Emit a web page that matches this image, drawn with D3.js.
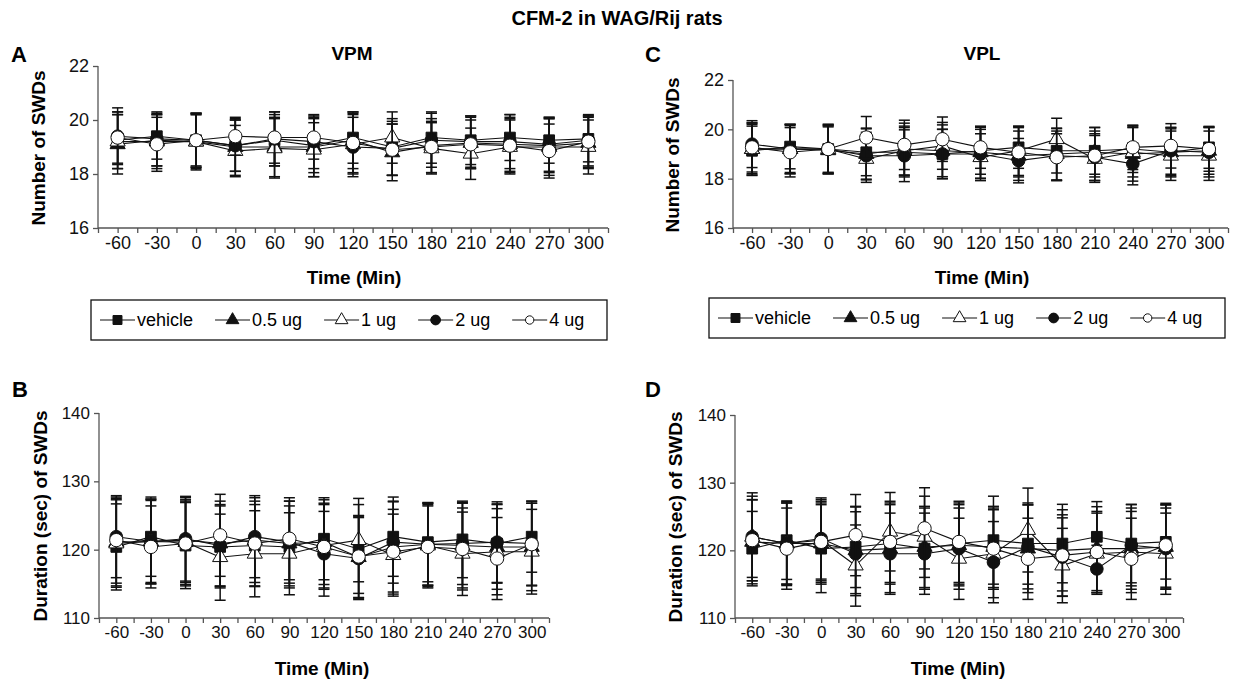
<!DOCTYPE html>
<html>
<head>
<meta charset="utf-8">
<script src="https://cdn.jsdelivr.net/npm/d3@7"></script>
<style>
  body { margin: 0; background: #fff; }
  svg { font-family: Arial, "Liberation Sans", sans-serif; }
</style>
</head>
<body>
<svg id="chart" width="1234" height="684"></svg>
<script>
// time points (min)
const times = [-60, -30, 0, 30, 60, 90, 120, 150, 180, 210, 240, 270, 300]
const seriesNames = ["vehicle", "0.5 ug", "1 ug", "2 ug", "4 ug"]

// A - VPM, number of SWDs
const vpmCountVehicle = [19.25, 19.4, 19.25, 19.05, 19.25, 19.05, 19.35, 19.0, 19.35, 19.25, 19.35, 19.25, 19.3]
const vpmCount05 = [19.1, 19.25, 19.2, 19.0, 19.0, 19.0, 19.25, 18.8, 19.05, 19.15, 19.1, 19.05, 19.15]
const vpmCount1 = [19.2, 19.2, 19.2, 18.85, 18.95, 18.9, 19.1, 19.35, 18.95, 18.75, 19.0, 19.0, 19.0]
const vpmCount2 = [19.4, 19.3, 19.25, 19.05, 19.3, 19.2, 19.0, 18.95, 19.25, 19.2, 19.2, 19.1, 19.25]
const vpmCount4 = [19.35, 19.1, 19.25, 19.4, 19.35, 19.35, 19.15, 18.9, 19.0, 19.1, 19.05, 18.85, 19.2]
const vpmCountErrVehicle = [1.05, 0.85, 1.0, 0.95, 0.95, 1.0, 0.95, 1.05, 0.95, 0.9, 0.85, 0.85, 0.85]
const vpmCountErr05 = [1.1, 0.95, 1.0, 1.05, 1.1, 1.1, 1.05, 1.05, 1.0, 0.95, 1.0, 1.0, 0.95]
const vpmCountErr1 = [1.0, 1.0, 1.05, 0.95, 1.1, 1.0, 1.1, 0.95, 0.95, 0.95, 1.0, 1.05, 1.0]
const vpmCountErr2 = [1.05, 1.0, 1.0, 0.95, 1.0, 1.0, 1.1, 1.0, 1.0, 0.95, 1.0, 1.0, 0.95]
const vpmCountErr4 = [0.95, 1.0, 0.95, 0.7, 0.95, 0.8, 1.1, 0.95, 0.95, 0.9, 1.0, 1.0, 0.95]

// C - VPL, number of SWDs
const vplCountVehicle = [19.13, 19.3, 19.2, 19.07, 19.07, 19.0, 19.13, 19.27, 19.13, 19.13, 19.2, 19.07, 19.27]
const vplCount05 = [19.2, 19.2, 19.15, 19.0, 19.2, 19.13, 19.07, 18.93, 19.0, 19.07, 19.0, 19.07, 19.13]
const vplCount1 = [19.2, 19.2, 19.2, 18.8, 19.13, 19.33, 18.87, 19.13, 19.6, 18.8, 19.07, 18.93, 18.93]
const vplCount2 = [19.4, 19.2, 19.2, 18.93, 18.93, 19.0, 19.0, 18.73, 18.93, 18.87, 18.6, 19.13, 19.07]
const vplCount4 = [19.27, 19.07, 19.2, 19.67, 19.37, 19.6, 19.27, 19.07, 18.87, 18.93, 19.27, 19.33, 19.2]
const vplCountErrVehicle = [1.0, 0.9, 0.95, 0.95, 1.0, 1.0, 0.95, 0.85, 0.9, 0.95, 0.95, 0.95, 0.85]
const vplCountErr05 = [1.05, 1.0, 0.95, 1.05, 1.05, 1.05, 1.05, 1.0, 1.05, 1.0, 1.1, 1.0, 0.95]
const vplCountErr1 = [1.0, 0.95, 1.0, 0.95, 1.0, 0.95, 0.95, 1.0, 0.85, 0.95, 1.0, 1.0, 1.0]
const vplCountErr2 = [0.95, 1.0, 1.0, 0.95, 1.05, 1.0, 1.0, 0.9, 1.0, 0.95, 0.85, 0.95, 1.0]
const vplCountErr4 = [1.0, 1.0, 0.95, 0.85, 1.0, 0.9, 0.85, 1.0, 0.95, 1.0, 0.9, 0.9, 0.9]

// B - VPM, duration of SWDs (sec)
const vpmDurVehicle = [120.4, 121.9, 120.6, 120.4, 120.6, 120.4, 121.6, 120.1, 121.9, 121.1, 121.5, 120.9, 121.9]
const vpmDur05 = [121.1, 121.2, 121.4, 120.9, 121.4, 120.9, 121.1, 118.9, 120.4, 120.8, 120.6, 120.4, 120.4]
const vpmDur1 = [120.9, 121.2, 121.1, 118.9, 119.4, 119.4, 120.6, 121.4, 119.2, 120.6, 119.4, 119.7, 119.7]
const vpmDur2 = [121.9, 121.2, 121.6, 120.6, 121.9, 121.1, 119.4, 118.7, 121.1, 120.8, 120.9, 121.1, 120.9]
const vpmDur4 = [121.4, 120.4, 120.9, 122.1, 120.9, 121.6, 120.4, 119.0, 119.7, 120.4, 120.1, 118.7, 120.8]
const vpmDurErrVehicle = [6.3, 5.8, 6.3, 6.0, 6.0, 6.0, 6.0, 6.5, 5.8, 5.8, 5.6, 5.8, 5.2]
const vpmDurErr05 = [6.4, 6.2, 6.2, 6.2, 6.2, 6.2, 6.2, 6.0, 6.6, 6.0, 6.2, 6.2, 6.4]
const vpmDurErr1 = [6.4, 6.2, 6.2, 6.3, 6.3, 6.0, 6.2, 6.1, 6.0, 6.0, 6.1, 6.3, 6.2]
const vpmDurErr2 = [6.0, 6.0, 6.2, 6.0, 6.0, 6.0, 6.2, 6.0, 6.0, 6.0, 6.0, 5.9, 6.2]
const vpmDurErr4 = [6.3, 6.0, 6.2, 6.0, 6.2, 6.0, 6.2, 6.0, 6.2, 6.0, 6.0, 6.0, 6.0]

// D - VPL, duration of SWDs (sec)
const vplDurVehicle = [120.25, 121.5, 120.25, 120.5, 121.0, 120.25, 121.0, 121.5, 121.0, 121.0, 122.0, 121.0, 121.25]
const vplDur05 = [121.25, 121.0, 121.0, 120.0, 120.25, 120.5, 120.75, 120.5, 120.25, 120.0, 120.25, 120.25, 120.5]
const vplDur1 = [122.0, 121.0, 121.5, 117.75, 122.75, 122.0, 118.75, 119.5, 123.0, 117.75, 119.5, 119.75, 119.5]
const vplDur2 = [122.0, 121.0, 121.75, 119.5, 119.5, 119.5, 120.25, 118.25, 120.5, 119.0, 117.25, 120.75, 120.25]
const vplDur4 = [121.5, 120.25, 121.25, 122.25, 121.25, 123.25, 121.25, 120.25, 118.75, 119.25, 119.75, 118.75, 120.75]
const vplDurErrVehicle = [5.5, 5.8, 6.5, 6.0, 6.0, 6.0, 6.0, 6.5, 6.0, 5.8, 5.2, 5.8, 5.5]
const vplDurErr05 = [6.2, 6.2, 6.0, 6.4, 6.5, 6.0, 6.0, 6.0, 6.5, 6.0, 6.2, 6.0, 6.2]
const vplDurErr1 = [6.5, 6.0, 6.0, 6.0, 5.8, 6.0, 6.0, 6.5, 6.2, 5.5, 6.0, 6.0, 6.0]
const vplDurErr2 = [6.0, 6.0, 6.0, 6.2, 6.0, 6.0, 6.0, 6.0, 6.2, 5.8, 3.5, 6.0, 6.0]
const vplDurErr4 = [6.0, 6.0, 6.0, 6.0, 6.0, 6.0, 6.0, 6.0, 6.0, 6.0, 6.0, 6.0, 6.2]

const countTicks = [16, 18, 20, 22]
const durTicks = [110, 120, 130, 140]

const svg = d3.select("#chart")
const axisColor = "#555"

// marker look per series (vehicle, 0.5, 1, 2, 4 ug)
const markers = [
    { type: d3.symbolSquare, size: 115, legendSize: 80, fill: "#111" },
    { type: d3.symbolTriangle, size: 100, legendSize: 70, fill: "#111" },
    { type: d3.symbolTriangle, size: 100, legendSize: 70, fill: "#fff" },
    { type: d3.symbolCircle, size: 125, legendSize: 75, fill: "#111" },
    { type: d3.symbolCircle, size: 140, legendSize: 55, fill: "#fff" }
]

svg.append("text")
    .attr("x", 617).attr("y", 25)
    .attr("text-anchor", "middle")
    .style("font-size", "20px").style("font-weight", "bold")
    .text("CFM-2 in WAG/Rij rats")

function drawPanel(p) {
    const x = d3.scaleLinear().domain([-75, 315]).range([p.x0, p.x1])
    const y = d3.scaleLinear().domain(p.yDomain).range([p.y0, p.y1])
    const g = svg.append("g")

    // axes
    const xAxis = g.append("g")
        .attr("transform", `translate(0,${p.y0})`)
        .call(d3.axisBottom(x).tickValues(d3.range(-75, 316, 15)).tickSize(5).tickFormat(""))
    const xLab = g.append("g")
        .attr("transform", `translate(0,${p.y0})`)
        .call(d3.axisBottom(x).tickValues(times).tickSize(0).tickPadding(p.xPad).tickFormat(d => String(d)))
    xLab.select(".domain").remove()
    xLab.selectAll("text").style("font-size", p.tickFont).attr("fill", "#111")
    const yAxis = g.append("g")
        .attr("transform", `translate(${p.x0},0)`)
        .call(d3.axisLeft(y).tickValues(p.ticks).tickSize(5).tickPadding(4).tickFormat(d => String(d)))
    yAxis.selectAll("text").style("font-size", p.tickFont).attr("fill", "#111")
    ;[xAxis, yAxis].forEach(a => {
        a.select(".domain").attr("stroke", axisColor).attr("stroke-width", 1.3)
        a.selectAll(".tick line").attr("stroke", axisColor).attr("stroke-width", 1.3)
    })
    xAxis.select(".domain").attr("d", `M${p.x0},0H${p.x1}`)
    yAxis.select(".domain").attr("d", `M0,${p.y0}V${p.y1}`)

    // labels
    g.append("text").attr("x", p.letterX).attr("y", p.letterY)
        .style("font-size", "22px").style("font-weight", "bold").text(p.letter)
    if (p.title) {
        g.append("text").attr("x", p.titleX).attr("y", 60).attr("text-anchor", "middle")
            .style("font-size", "19px").style("font-weight", "bold").text(p.title)
    }
    g.append("text").attr("x", p.xLabelX).attr("y", p.xLabelY).attr("text-anchor", "middle")
        .style("font-size", "19px").style("font-weight", "bold").text("Time (Min)")
    g.append("text")
        .attr("transform", `translate(${p.yLabelX},${p.yLabelY}) rotate(-90)`)
        .attr("text-anchor", "middle").attr("dominant-baseline", "central")
        .style("font-size", "19px").style("font-weight", "bold").text(p.yLabel)

    // series: line, error bars, then markers
    const line = d3.line().x((d, i) => x(times[i])).y(d => y(d))
    p.means.forEach((vals, s) => {
        const errs = p.errs[s]
        const sg = g.append("g")
        sg.append("path").attr("d", line(vals))
            .attr("fill", "none").attr("stroke", "#111").attr("stroke-width", 1.1)
        const eb = sg.selectAll(".eb").data(vals).enter().append("g")
        eb.append("line")
            .attr("x1", (d, i) => x(times[i])).attr("x2", (d, i) => x(times[i]))
            .attr("y1", (d, i) => y(d - errs[i])).attr("y2", (d, i) => y(d + errs[i]))
        eb.append("line")
            .attr("x1", (d, i) => x(times[i]) - 5.5).attr("x2", (d, i) => x(times[i]) + 5.5)
            .attr("y1", (d, i) => y(d + errs[i])).attr("y2", (d, i) => y(d + errs[i]))
        eb.append("line")
            .attr("x1", (d, i) => x(times[i]) - 5.5).attr("x2", (d, i) => x(times[i]) + 5.5)
            .attr("y1", (d, i) => y(d - errs[i])).attr("y2", (d, i) => y(d - errs[i]))
        eb.selectAll("line").attr("stroke", "#111").attr("stroke-width", 1.5)
        const m = markers[s]
        sg.selectAll(".mk").data(vals).enter().append("path")
            .attr("transform", (d, i) => `translate(${x(times[i])},${y(d)})`)
            .attr("d", d3.symbol().type(m.type).size(m.size))
            .attr("fill", m.fill).attr("stroke", "#111").attr("stroke-width", 1)
    })

    // legend
    if (p.legend) {
        const L = p.legend
        const lg = g.append("g")
        lg.append("rect").attr("x", L.x0).attr("y", L.y0)
            .attr("width", L.x1 - L.x0).attr("height", L.y1 - L.y0)
            .attr("fill", "none").attr("stroke", "#111").attr("stroke-width", 1.3)
        const cy = (L.y0 + L.y1) / 2
        let cx = L.x0 + 9
        seriesNames.forEach((name, s) => {
            lg.append("line").attr("x1", cx).attr("x2", cx + 35).attr("y1", cy).attr("y2", cy)
                .attr("stroke", "#111").attr("stroke-width", 1.1)
            const m = markers[s]
            lg.append("path").attr("transform", `translate(${cx + 17.5},${cy})`)
                .attr("d", d3.symbol().type(m.type).size(m.legendSize))
                .attr("fill", m.fill).attr("stroke", "#111").attr("stroke-width", 1)
            const t = lg.append("text").attr("x", cx + 37).attr("y", cy)
                .attr("dominant-baseline", "central")
                .style("font-size", "18px").text(name)
            cx += 37 + t.node().getComputedTextLength() + 22
        })
    }
}

drawPanel({
    letter: "A", letterX: 11, letterY: 62, title: "VPM", titleX: 352, tickFont: "18px",
    x0: 98, x1: 608, y0: 228, y1: 66, yDomain: [16, 22], ticks: countTicks, xPad: 8,
    xLabelX: 354, xLabelY: 284, yLabelX: 38, yLabelY: 148, yLabel: "Number of SWDs",
    means: [vpmCountVehicle, vpmCount05, vpmCount1, vpmCount2, vpmCount4],
    errs: [vpmCountErrVehicle, vpmCountErr05, vpmCountErr1, vpmCountErr2, vpmCountErr4],
    legend: { x0: 91, x1: 607, y0: 300, y1: 340 }
})
drawPanel({
    letter: "C", letterX: 645, letterY: 62, title: "VPL", titleX: 982, tickFont: "18px",
    x0: 733, x1: 1228, y0: 228, y1: 80, yDomain: [16, 22], ticks: countTicks, xPad: 8,
    xLabelX: 982, xLabelY: 284, yLabelX: 672, yLabelY: 155, yLabel: "Number of SWDs",
    means: [vplCountVehicle, vplCount05, vplCount1, vplCount2, vplCount4],
    errs: [vplCountErrVehicle, vplCountErr05, vplCountErr1, vplCountErr2, vplCountErr4],
    legend: { x0: 709, x1: 1225, y0: 298, y1: 338 }
})
drawPanel({
    letter: "B", letterX: 12, letterY: 397, tickFont: "17px",
    x0: 99, x1: 549, y0: 618, y1: 413, yDomain: [110, 140], ticks: durTicks, xPad: 8,
    xLabelX: 322, xLabelY: 675, yLabelX: 40, yLabelY: 516, yLabel: "Duration (sec) of SWDs",
    means: [vpmDurVehicle, vpmDur05, vpmDur1, vpmDur2, vpmDur4],
    errs: [vpmDurErrVehicle, vpmDurErr05, vpmDurErr1, vpmDurErr2, vpmDurErr4]
})
drawPanel({
    letter: "D", letterX: 645, letterY: 397, tickFont: "17px",
    x0: 735, x1: 1183, y0: 618, y1: 415, yDomain: [110, 140], ticks: durTicks, xPad: 8,
    xLabelX: 958, xLabelY: 675, yLabelX: 675, yLabelY: 517, yLabel: "Duration (sec) of SWDs",
    means: [vplDurVehicle, vplDur05, vplDur1, vplDur2, vplDur4],
    errs: [vplDurErrVehicle, vplDurErr05, vplDurErr1, vplDurErr2, vplDurErr4]
})
</script>
</body>
</html>
